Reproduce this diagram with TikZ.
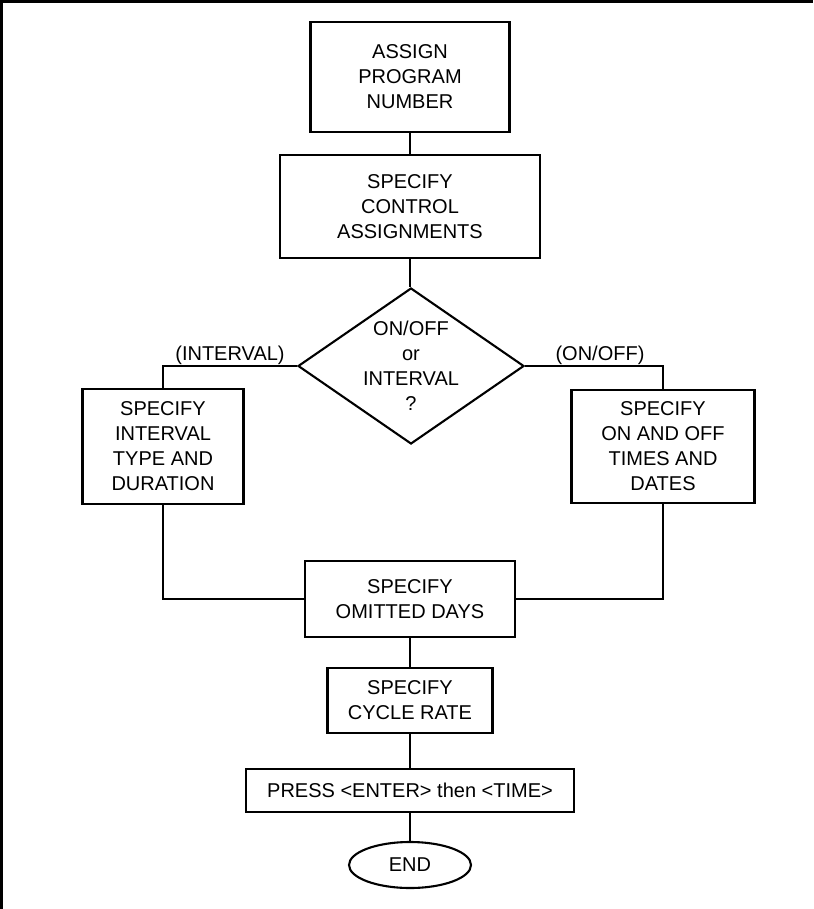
\documentclass[tikz,border=0pt]{standalone}
\usepackage{fontspec}
\setmainfont{Liberation Sans}
\usepackage{tikz}
\usetikzlibrary{shapes.geometric}
\tikzset{
  stepbox/.style={draw, line width=2.1pt, align=center, inner sep=0pt,
    font=\fontsize{20}{25}\selectfont},
  decision/.style={stepbox, diamond, aspect=1.45, inner sep=-3pt},
  endcap/.style={stepbox, ellipse},
  branch/.style={align=center, inner sep=0pt, font=\fontsize{20}{25}\selectfont},
  link/.style={line width=2.1pt}
}

\begin{document}
\begin{tikzpicture}[x=1pt, y=-1pt]
        \useasboundingbox (0,0) rectangle (813,909);

        % frame
        \draw[line width=3pt] (1.5,909) -- (1.5,1.5) -- (813,1.5);

        \node[stepbox, minimum width=199, minimum height=110] (assign) at (410,77) {ASSIGN\\PROGRAM\\NUMBER};
        \node[stepbox, minimum width=260, minimum height=103] (control) at (410,206.5) {SPECIFY\\CONTROL\\ASSIGNMENTS};
        \node[decision, minimum width=226, minimum height=156] (decide) at (411,366) {ON/OFF\\or\\INTERVAL\\?};

        \node[stepbox, minimum width=161, minimum height=115] (ivl) at (163,446.5) {SPECIFY\\INTERVAL\\TYPE AND\\DURATION};
        \node[stepbox, minimum width=183, minimum height=113] (onoff) at (663,446.5) {SPECIFY\\ON AND OFF\\TIMES AND\\DATES};

        \node[stepbox, minimum width=210, minimum height=76] (omit) at (410,599) {SPECIFY\\OMITTED DAYS};
        \node[stepbox, minimum width=165, minimum height=65] (cycle) at (410,700.5) {SPECIFY\\CYCLE RATE};
        \node[stepbox, minimum width=328, minimum height=43] (press) at (410,790.5) {PRESS <ENTER> then <TIME>};
        \node[endcap, minimum width=122, minimum height=46] (end) at (410,865) {END};

        \node[branch] (ivllbl) at (230,355) {(INTERVAL)};
        \node[branch] (onofflbl) at (600,355) {(ON/OFF)};

        \draw[link] (assign) -- (control);
        \draw[link] (control) -- (control |- decide.north);
        \draw[link] (decide.west) -| (ivl);
        \draw[link] (decide.east) -| (onoff);
        \draw[link] (ivl) |- (omit);
        \draw[link] (onoff) |- (omit);
        \draw[link] (omit) -- (cycle);
        \draw[link] (cycle) -- (press);
        \draw[link] (press) -- (end);

    \end{tikzpicture}
\end{document}
